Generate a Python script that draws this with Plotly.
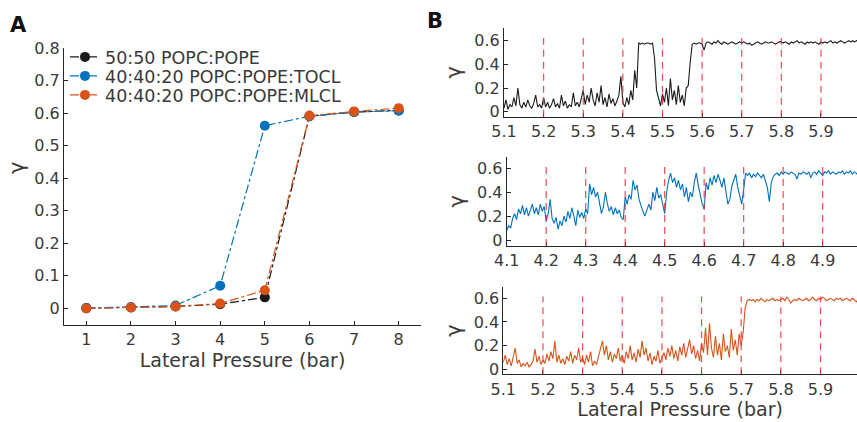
import plotly.graph_objects as go

# ---------------- Panel A data ----------------
pressure = [1, 2, 3, 4, 5, 6, 7, 8]
gamma_popc_pope = [0.000, 0.002, 0.005, 0.012, 0.033, 0.590, 0.603, 0.608]
gamma_tocl = [0.000, 0.003, 0.008, 0.069, 0.561, 0.590, 0.603, 0.607]
gamma_mlcl = [-0.001, 0.002, 0.005, 0.014, 0.055, 0.592, 0.605, 0.615]
series_names = ["50:50 POPC:POPE", "40:40:20 POPC:POPE:TOCL", "40:40:20 POPC:POPE:MLCL"]
series_colors = ["#1a1a1a", "#0072BD", "#D95319"]

# ---------------- Panel B data (sampled every 0.005 bar) ----------------
b_step = 0.005
b1_start = 5.1
b1_gamma = [
    0.03, 0.10, 0.02, 0.06, 0.04, 0.12, 0.05, 0.20, 0.06, 0.03, 0.08, 0.04, 0.10, 0.05, 0.03, 0.07, 0.14, 0.04, 0.06, 0.03,
    0.12, 0.04, 0.08, 0.03, 0.06, 0.11, 0.04, 0.07, 0.03, 0.14, 0.05, 0.09, 0.03, 0.06, 0.04, 0.16, 0.05, 0.08, 0.04, 0.10,
    0.18, 0.06, 0.14, 0.08, 0.20, 0.10, 0.05, 0.16, 0.08, 0.22, 0.06, 0.12, 0.04, 0.15, 0.07, 0.11, 0.05, 0.09, 0.14, 0.30,
    0.08, 0.04, 0.12, 0.06, 0.18, 0.10, 0.35, 0.20, 0.58, 0.57, 0.58, 0.57, 0.58, 0.58, 0.57, 0.58, 0.45, 0.18, 0.12, 0.05,
    0.15, 0.08, 0.20, 0.05, 0.28, 0.10, 0.18, 0.06, 0.22, 0.08, 0.14, 0.05, 0.20, 0.22, 0.42, 0.57, 0.58, 0.57, 0.58, 0.58,
    0.57, 0.52, 0.58, 0.59, 0.58, 0.57, 0.59, 0.58, 0.60, 0.58, 0.57, 0.59, 0.58, 0.57, 0.58, 0.59, 0.58, 0.57, 0.58, 0.59,
    0.58, 0.59, 0.58, 0.57, 0.58, 0.56, 0.57, 0.58, 0.59, 0.58, 0.57, 0.58, 0.59, 0.58, 0.58, 0.59, 0.58, 0.57, 0.58, 0.59,
    0.59, 0.58, 0.59, 0.58, 0.57, 0.59, 0.58, 0.59, 0.60, 0.58, 0.59, 0.58, 0.57, 0.59, 0.58, 0.59, 0.58, 0.59, 0.58, 0.57,
    0.59, 0.58, 0.59, 0.58, 0.59, 0.60, 0.58, 0.59, 0.58, 0.59, 0.60, 0.59, 0.58, 0.59, 0.60, 0.59, 0.60, 0.59, 0.60, 0.60,
]
b1_marks = [5.2, 5.3, 5.4, 5.5, 5.6, 5.7, 5.8, 5.9]

b2_start = 4.1
b2_gamma = [
    0.08, 0.12, 0.10, 0.18, 0.22, 0.17, 0.26, 0.22, 0.29, 0.21, 0.27, 0.20, 0.25, 0.30, 0.22, 0.27, 0.21, 0.30, 0.24, 0.28,
    0.16, 0.22, 0.34, 0.18, 0.14, 0.19, 0.09, 0.16, 0.12, 0.20, 0.15, 0.24, 0.18, 0.27, 0.20, 0.12, 0.25, 0.19, 0.23, 0.18,
    0.26, 0.22, 0.47, 0.38, 0.44, 0.36, 0.40, 0.30, 0.22, 0.28, 0.40, 0.30, 0.24, 0.28, 0.21, 0.27, 0.22, 0.25, 0.19, 0.17,
    0.36, 0.30, 0.38, 0.34, 0.50, 0.42, 0.46, 0.34, 0.28, 0.24, 0.20, 0.26, 0.30, 0.25, 0.40, 0.33, 0.44, 0.35, 0.38, 0.30,
    0.22, 0.40, 0.50, 0.56, 0.48, 0.52, 0.44, 0.50, 0.42, 0.47, 0.36, 0.44, 0.32, 0.40, 0.36, 0.48, 0.56, 0.46, 0.38, 0.30,
    0.26, 0.48, 0.42, 0.52, 0.46, 0.54, 0.48, 0.55, 0.50, 0.44, 0.52, 0.40, 0.30, 0.34, 0.45, 0.50, 0.55, 0.44, 0.38, 0.30,
    0.42, 0.56, 0.54, 0.56, 0.52, 0.55, 0.53, 0.56, 0.54, 0.52, 0.55, 0.50, 0.44, 0.32, 0.48, 0.53, 0.55, 0.56, 0.54, 0.57,
    0.55, 0.57, 0.56, 0.55, 0.57, 0.56, 0.55, 0.51, 0.56, 0.55, 0.57, 0.56, 0.55, 0.57, 0.52, 0.56, 0.57, 0.55, 0.58, 0.56,
    0.54, 0.57, 0.56, 0.58, 0.55, 0.57, 0.56, 0.55, 0.57, 0.56, 0.58, 0.55, 0.57, 0.56, 0.58, 0.55, 0.57, 0.56, 0.54, 0.56,
]
b2_marks = [4.2, 4.3, 4.4, 4.5, 4.6, 4.7, 4.8, 4.9]

b3_start = 5.1
b3_gamma = [
    0.06, 0.12, 0.04, 0.09, 0.03, 0.10, 0.18, 0.05, 0.08, 0.02, 0.05, 0.03, 0.06, 0.02, 0.04, 0.07, 0.17, 0.06, 0.11, 0.04,
    0.08, 0.05, 0.13, 0.07, 0.15, 0.09, 0.24, 0.06, 0.12, 0.05, 0.09, 0.04, 0.11, 0.07, 0.15, 0.05, 0.12, 0.08, 0.18, 0.06,
    0.10, 0.04, 0.12, 0.06, 0.15, 0.03, 0.07, 0.04, 0.10, 0.16, 0.24, 0.12, 0.20, 0.08, 0.15, 0.06, 0.13, 0.09, 0.18, 0.07,
    0.12, 0.05, 0.15, 0.09, 0.20, 0.08, 0.14, 0.06, 0.17, 0.10, 0.24, 0.12, 0.18, 0.07, 0.14, 0.04, 0.11, 0.07, 0.16, 0.05,
    0.10, 0.14, 0.08, 0.18, 0.11, 0.20, 0.09, 0.16, 0.07, 0.19, 0.12, 0.22, 0.10, 0.17, 0.25, 0.13, 0.20, 0.09, 0.16, 0.07,
    0.22, 0.14, 0.35, 0.12, 0.39, 0.18, 0.10, 0.28, 0.12, 0.22, 0.08, 0.30, 0.15, 0.20, 0.10, 0.34, 0.16, 0.25, 0.12, 0.30,
    0.20, 0.32, 0.52, 0.58, 0.59, 0.58, 0.59, 0.57, 0.59, 0.58, 0.60, 0.58, 0.57, 0.59, 0.58, 0.59, 0.60, 0.58, 0.59, 0.58,
    0.59, 0.60, 0.58, 0.61, 0.59, 0.56, 0.58, 0.59, 0.58, 0.60, 0.59, 0.58, 0.59, 0.60, 0.58, 0.59, 0.61, 0.59, 0.58, 0.60,
    0.59, 0.61, 0.60, 0.58, 0.59, 0.60, 0.59, 0.58, 0.60, 0.59, 0.60, 0.58, 0.59, 0.60, 0.59, 0.58, 0.60, 0.59, 0.57, 0.59,
]
b3_marks = [5.2, 5.3, 5.4, 5.5, 5.6, 5.7, 5.8, 5.9]

# ---------------- Styling ----------------
W, H = 857, 422
FONT = "DejaVu Sans"
TXT = "#3a3a3a"
AX = "#262626"
TICK_SIZE = 16
TITLE_SIZE = 19
LEG_SIZE = 17.5
GAMMA_SIZE = 21
MARK_RED = "rgba(235,45,55,0.85)"


def px_x(p):
    return p / W


def px_y(p):
    return 1 - p / H


fig = go.Figure()

# Panel A traces
for name, vals, col, leg in zip(series_names, [gamma_popc_pope, gamma_tocl, gamma_mlcl],
                                series_colors, ["legend", "legend2", "legend3"]):
    fig.add_trace(go.Scatter(
        x=pressure, y=vals, name=name, mode="lines+markers",
        line=dict(color=col, width=1.2, dash="dashdot"),
        marker=dict(color=col, size=10),
        xaxis="x", yaxis="y", legend=leg, showlegend=True,
    ))

# Panel B traces
for start, vals, col, ax in [(b1_start, b1_gamma, series_colors[0], 2),
                             (b2_start, b2_gamma, series_colors[1], 3),
                             (b3_start, b3_gamma, series_colors[2], 4)]:
    fig.add_trace(go.Scatter(
        x0=start, dx=b_step, y=vals, mode="lines",
        line=dict(color=col, width=1.1),
        xaxis=f"x{ax}", yaxis=f"y{ax}", showlegend=False,
    ))

shapes = []
for marks, ax in [(b1_marks, 2), (b2_marks, 3), (b3_marks, 4)]:
    for m in marks:
        shapes.append(dict(type="line", xref=f"x{ax}", yref=f"y{ax} domain",
                           x0=m, x1=m, y0=0, y1=0.887,
                           line=dict(color=MARK_RED, width=1.2, dash="7px,5px"),
                           layer="above"))

common_axis = dict(
    showline=True, linecolor=AX, linewidth=1, ticks="inside", ticklen=4,
    tickcolor=AX, showgrid=False, zeroline=False, mirror=False, automargin=False,
    tickfont=dict(family=FONT, size=TICK_SIZE, color=TXT),
)

gamma_title = dict(text="γ", font=dict(size=GAMMA_SIZE, family=FONT, color=TXT), standoff=6)

layout = dict(
    width=W, height=H, margin=dict(l=0, r=0, t=0, b=0, autoexpand=False),
    paper_bgcolor="white", plot_bgcolor="white",
    font=dict(family=FONT, color=TXT),
    shapes=shapes,
    # Panel A
    xaxis=dict(domain=[px_x(64), px_x(421)], range=[0.5, 8.5], tickmode="linear", tick0=1, dtick=1,
               anchor="y",
               title=dict(text="Lateral Pressure (bar)", font=dict(size=TITLE_SIZE, family=FONT, color=TXT), standoff=4),
               **common_axis),
    yaxis=dict(domain=[px_y(325), px_y(48)], range=[-0.052, 0.8], tickmode="linear", tick0=0, dtick=0.1,
               anchor="x", **common_axis),
    # B1
    xaxis2=dict(domain=[px_x(504), 1.0], range=[5.1, 5.991], tickmode="linear", tick0=5.1, dtick=0.1,
                tickformat=".1f", anchor="y2", **common_axis),
    yaxis2=dict(domain=[px_y(116.7), px_y(28)], range=[-0.042, 0.707], tickmode="linear", tick0=0, dtick=0.2,
                anchor="x2", title=gamma_title, **common_axis),
    # B2
    xaxis3=dict(domain=[px_x(506.7), 1.0], range=[4.1, 4.987], tickmode="linear", tick0=4.1, dtick=0.1,
                tickformat=".1f", anchor="y3", **common_axis),
    yaxis3=dict(domain=[px_y(246), px_y(156.7)], range=[-0.05, 0.697], tickmode="linear", tick0=0, dtick=0.2,
                anchor="x3", title=gamma_title, **common_axis),
    # B3
    xaxis4=dict(domain=[px_x(503.3), 1.0], range=[5.1, 5.992], tickmode="linear", tick0=5.1, dtick=0.1,
                tickformat=".1f", anchor="y4",
                title=dict(text="Lateral Pressure (bar)", font=dict(size=TITLE_SIZE, family=FONT, color=TXT), standoff=4),
                **common_axis),
    yaxis4=dict(domain=[px_y(374.3), px_y(286.7)], range=[-0.042, 0.698], tickmode="linear", tick0=0, dtick=0.2,
                anchor="x4", title=gamma_title, **common_axis),
    annotations=[
        dict(text="<b>A</b>", x=px_x(18), y=px_y(25), xref="paper", yref="paper", showarrow=False,
             xanchor="center", yanchor="middle", font=dict(size=21, family=FONT, color="#111")),
        dict(text="<b>B</b>", x=px_x(435), y=px_y(21), xref="paper", yref="paper", showarrow=False,
             xanchor="center", yanchor="middle", font=dict(size=21, family=FONT, color="#111")),
        dict(text="γ", x=px_x(17), y=px_y(168), xref="paper", yref="paper", showarrow=False,
             xanchor="center", yanchor="middle", textangle=-90,
             font=dict(size=GAMMA_SIZE, family=FONT, color=TXT)),
    ],
)

leg_common = dict(xanchor="left", yanchor="middle", bgcolor="rgba(0,0,0,0)", borderwidth=0,
                  font=dict(family=FONT, size=LEG_SIZE, color=TXT), itemwidth=30)
layout["legend"] = dict(x=px_x(65), y=px_y(57), **leg_common)
layout["legend2"] = dict(x=px_x(65), y=px_y(76), **leg_common)
layout["legend3"] = dict(x=px_x(65), y=px_y(95), **leg_common)

fig.update_layout(**layout)
fig.write_html("out.html", config={"displayModeBar": False},
               post_script="document.body.style.margin='0px';")
